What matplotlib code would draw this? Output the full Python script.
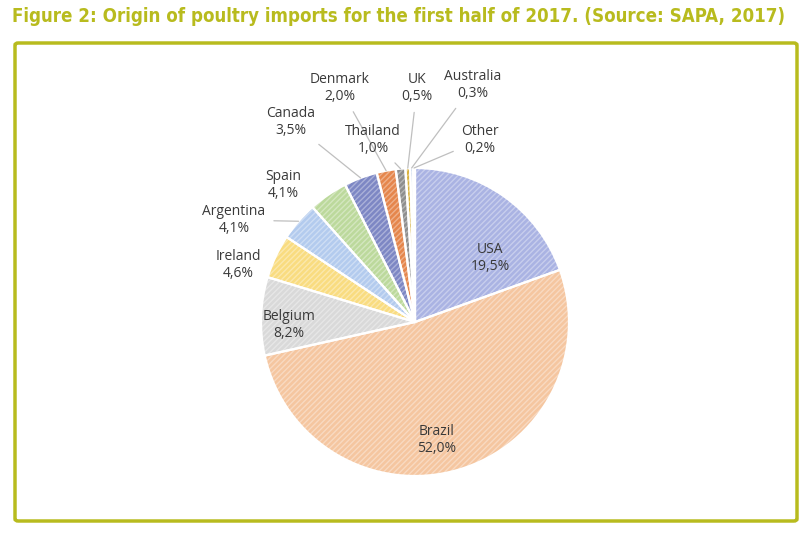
import matplotlib.pyplot as plt
from matplotlib.patches import FancyBboxPatch
import numpy as np

countries = ["USA", "Brazil", "Belgium", "Ireland", "Argentina", "Spain",
             "Canada", "Denmark", "Thailand", "UK", "Australia", "Other"]
shares = [19.5, 52.0, 8.2, 4.6, 4.1, 4.1, 3.5, 2.0, 1.0, 0.5, 0.3, 0.2]
pct_labels = ["19,5%", "52,0%", "8,2%", "4,6%", "4,1%", "4,1%",
              "3,5%", "2,0%", "1,0%", "0,5%", "0,3%", "0,2%"]

colors = ["#aab3e3", "#f5c6a0", "#d9d9d9", "#f9dc80", "#b3cbee", "#bcd99c",
          "#7d87c4", "#e5864c", "#8e8e8e", "#d9b13e", "#9bb6e0", "#a4c77c"]

# label positions in pixels of the original picture (layout only)
label_px = [(490, 258), (437, 440), (289, 325), (238, 265), (234, 220),
            (283, 185), (291, 122), (340, 88), (373, 140), (417, 88),
            (473, 85), (480, 140)]
leader = [False, False, False, False, True, False,
          True, True, True, True, True, True]

olive = "#b8bb1e"
W, H = 810, 533
fig = plt.figure(figsize=(W / 100, H / 100), dpi=100)
fig.patch.set_facecolor("white")

title = fig.text(12 / W, 1 - 17 / H,
                 "Figure 2: Origin of poultry imports for the first half of 2017. (Source: SAPA, 2017)",
                 family=["DejaVu Sans"], stretch="condensed", weight="bold",
                 color=olive, fontsize=15, va="center", ha="left")
# squeeze the title to the reference width (about 776 px)
fig.canvas.draw()
tw = title.get_window_extent().width
if tw > 776:
    title.set_fontsize(15 * 776 / tw)

box = FancyBboxPatch((15 / W, 12 / H), 782 / W, 478 / H,
                     boxstyle="round,pad=0,rounding_size=0.004",
                     transform=fig.transFigure, facecolor="none",
                     edgecolor=olive, linewidth=2.5)
fig.patches.append(box)

# pie center (415,322) px, radius 154 px
cx, cy, r = 415, 322, 154
ax = fig.add_axes([(cx - 2 * r) / W, 1 - (cy + 1.5 * r) / H, 4 * r / W, 3 * r / H])

wedges, _ = ax.pie(shares, colors=colors, startangle=90, counterclock=False,
                   radius=1, wedgeprops=dict(edgecolor="white", linewidth=0))
ax.pie(shares, colors=["none"] * len(shares), startangle=90, counterclock=False,
       radius=1, wedgeprops=dict(edgecolor=(1, 1, 1, 0.35), linewidth=0,
                                 hatch="//////"))
ax.pie(shares, colors=["none"] * len(shares), startangle=90, counterclock=False,
       radius=1, wedgeprops=dict(edgecolor="white", linewidth=1.6))
ax.set_aspect("auto")
ax.set_xlim(-2, 2)
ax.set_ylim(-1.5, 1.5)
ax.axis("off")

for w, name, pct, (px, py), ld in zip(wedges, countries, pct_labels, label_px, leader):
    tx, ty = (px - cx) / r, (cy - py) / r
    txt = f"{name}\n{pct}"
    if ld:
        mid = np.deg2rad((w.theta1 + w.theta2) / 2)
        ax.annotate(txt, xy=(np.cos(mid), np.sin(mid)), xytext=(tx, ty),
                    ha="center", va="center", fontsize=10, color="#3a3a3a",
                    family=["Open Sans", "DejaVu Sans"], linespacing=1.2,
                    arrowprops=dict(arrowstyle="-", color="#bfbfbf", lw=0.9,
                                    shrinkA=4, shrinkB=0))
    else:
        ax.text(tx, ty, txt, ha="center", va="center", fontsize=10,
                color="#3a3a3a", family=["Open Sans", "DejaVu Sans"],
                linespacing=1.2)

fig.savefig("out.png", dpi=100, facecolor="white")
